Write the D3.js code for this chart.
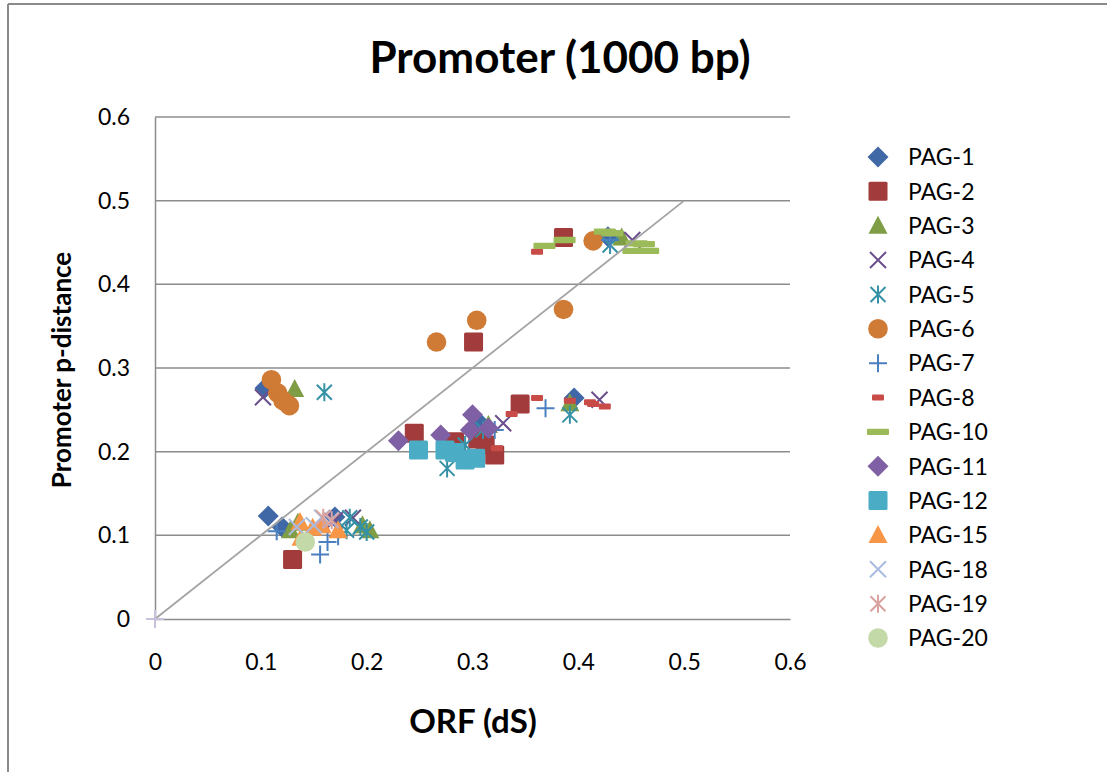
<!DOCTYPE html>
<html>
<head>
<meta charset="utf-8">
<script src="https://cdn.jsdelivr.net/npm/d3@7"></script>
<style>
  html, body { margin: 0; padding: 0; background: #fff; }
  svg { display: block; }
  text { font-family: Lato, "Open Sans", sans-serif; fill: #000; }
</style>
</head>
<body>
<div id="chart"></div>
<script>
// ---- data: ORF dS (x) vs promoter p-distance (y) for each gene family ----
const seriesNames = ["PAG-1","PAG-2","PAG-3","PAG-4","PAG-5","PAG-6","PAG-7","PAG-8",
                     "PAG-10","PAG-11","PAG-12","PAG-15","PAG-18","PAG-19","PAG-20"];
const pag1  = [[0.107,0.123],[0.120,0.110],[0.104,0.276],[0.307,0.234],[0.396,0.264],[0.428,0.457],[0.170,0.122]];
const pag2  = [[0.130,0.071],[0.245,0.222],[0.301,0.331],[0.386,0.456],[0.345,0.257],[0.283,0.212],[0.312,0.208],[0.321,0.196],[0.305,0.215]];
const pag3  = [[0.135,0.115],[0.128,0.106],[0.132,0.275],[0.203,0.106],[0.315,0.232],[0.441,0.456],[0.392,0.258],[0.196,0.112]];
const pag4  = [[0.102,0.265],[0.451,0.453],[0.420,0.262],[0.170,0.118],[0.329,0.234],[0.187,0.121]];
const pag5  = [[0.160,0.271],[0.392,0.244],[0.430,0.447],[0.184,0.121],[0.194,0.110],[0.200,0.104],[0.181,0.106],[0.276,0.180],[0.293,0.208],[0.310,0.226]];
const pag6  = [[0.110,0.286],[0.116,0.270],[0.121,0.261],[0.127,0.255],[0.266,0.331],[0.304,0.357],[0.386,0.370],[0.414,0.452]];
const pag7  = [[0.156,0.077],[0.163,0.092],[0.173,0.099],[0.115,0.105],[0.321,0.226],[0.369,0.252],[0.430,0.453],[0.290,0.195]];
const pag8  = [[0.361,0.264],[0.337,0.245],[0.392,0.261],[0.411,0.259],[0.425,0.254],[0.414,0.257],[0.361,0.439],[0.323,0.204]];
const pag10 = [[0.368,0.446],[0.387,0.453],[0.425,0.463],[0.432,0.461],[0.455,0.449],[0.462,0.448],[0.452,0.440],[0.466,0.440]];
const pag11 = [[0.230,0.213],[0.270,0.220],[0.300,0.244],[0.298,0.226],[0.315,0.228]];
const pag12 = [[0.249,0.202],[0.274,0.202],[0.283,0.199],[0.293,0.190],[0.303,0.192]];
const pag15 = [[0.137,0.116],[0.149,0.109],[0.173,0.106],[0.158,0.112],[0.138,0.097]];
const pag18 = [[0.134,0.110],[0.158,0.121],[0.166,0.118],[0.150,0.112]];
const pag19 = [[0.159,0.121],[0.167,0.118]];
const pag20 = [[0.142,0.092]];
// reference line y = x
const refLine = [[0,0],[0.5,0.5]];

const xTicks = [0,0.1,0.2,0.3,0.4,0.5,0.6];
const yTicks = [0,0.1,0.2,0.3,0.4,0.5,0.6];

// ---- marker styles per series ----
const styles = [
  {shape:"diamond",  color:"#4068A6"},
  {shape:"square",   color:"#A23B3B"},
  {shape:"triangle", color:"#7E9D45"},
  {shape:"times",    color:"#6A4F8C"},
  {shape:"asterisk", color:"#3591A6"},
  {shape:"circle",   color:"#CF7A35"},
  {shape:"plus",     color:"#4A7FC0"},
  {shape:"dashS",    color:"#C84B48"},
  {shape:"dashL",    color:"#9BBB59"},
  {shape:"diamond",  color:"#7F60A5"},
  {shape:"square",   color:"#4BACC6"},
  {shape:"triangle", color:"#F79646"},
  {shape:"times",    color:"#A9BBE0"},
  {shape:"asterisk", color:"#D9A29F"},
  {shape:"circle",   color:"#C4D9A8"}
];
const allSeries = [pag1,pag2,pag3,pag4,pag5,pag6,pag7,pag8,pag10,pag11,pag12,pag15,pag18,pag19,pag20];

const W = 1107, H = 772;
const svg = d3.select("#chart").append("svg").attr("width", W).attr("height", H);

// outer chart frame (top and left edges)
svg.append("line").attr("x1",8).attr("x2",W).attr("y1",4).attr("y2",4)
   .attr("stroke","#8a8a8a").attr("stroke-width",2);
svg.append("line").attr("x1",8).attr("x2",8).attr("y1",4).attr("y2",H)
   .attr("stroke","#8a8a8a").attr("stroke-width",2);

const x = d3.scaleLinear().domain([0,0.6]).range([155,790]);
const y = d3.scaleLinear().domain([0,0.6]).range([619,117]);

// horizontal gridlines
svg.append("g").selectAll("line").data(yTicks.filter(t => t > 0)).join("line")
  .attr("x1", x(0)).attr("x2", x(0.6))
  .attr("y1", d => y(d)).attr("y2", d => y(d))
  .attr("stroke","#8c8c8c").attr("stroke-width",1.5);

// axes
const xAxis = svg.append("g").attr("transform",`translate(0,${y(0)})`)
  .call(d3.axisBottom(x).tickValues(xTicks).tickFormat(d3.format("")).tickSize(0).tickPadding(34));
const yAxis = svg.append("g").attr("transform",`translate(${x(0)},0)`)
  .call(d3.axisLeft(y).tickValues(yTicks).tickFormat(d3.format("")).tickSize(0).tickPadding(25));
[xAxis, yAxis].forEach(a => {
  a.select(".domain").attr("stroke","#8c8c8c").attr("stroke-width",1.5);
  a.selectAll("text").style("font-family","Lato, sans-serif").style("font-size","23px").attr("fill","#000");
});
xAxis.selectAll("text").attr("dy","0.32em").attr("y", 44);

// marker drawing
function drawMarker(g, shape, color, cx, cy) {
  switch (shape) {
    case "diamond":
      g.append("path").attr("d",`M${cx},${cy-10.5}L${cx+10.5},${cy}L${cx},${cy+10.5}L${cx-10.5},${cy}Z`)
        .attr("fill",color); break;
    case "square":
      g.append("rect").attr("x",cx-9.5).attr("y",cy-9.5).attr("width",19).attr("height",19)
        .attr("rx",1.5).attr("fill",color); break;
    case "triangle":
      g.append("path").attr("d",`M${cx},${cy-10}L${cx+9.5},${cy+8}L${cx-9.5},${cy+8}Z`)
        .attr("fill",color); break;
    case "circle":
      g.append("circle").attr("cx",cx).attr("cy",cy).attr("r",9.8).attr("fill",color); break;
    case "times":
      g.append("path").attr("d",`M${cx-8},${cy-8}L${cx+8},${cy+8}M${cx-8},${cy+8}L${cx+8},${cy-8}`)
        .attr("stroke",color).attr("stroke-width",2).attr("fill","none"); break;
    case "asterisk":
      g.append("path").attr("d",`M${cx},${cy-9}L${cx},${cy+9}M${cx-7.5},${cy-7.5}L${cx+7.5},${cy+7.5}M${cx-7.5},${cy+7.5}L${cx+7.5},${cy-7.5}`)
        .attr("stroke",color).attr("stroke-width",2).attr("fill","none"); break;
    case "plus":
      g.append("path").attr("d",`M${cx},${cy-9}L${cx},${cy+9}M${cx-9},${cy}L${cx+9},${cy}`)
        .attr("stroke",color).attr("stroke-width",2).attr("fill","none"); break;
    case "dashS":
      g.append("rect").attr("x",cx-6).attr("y",cy-3).attr("width",12).attr("height",6)
        .attr("rx",1).attr("fill",color); break;
    case "dashL":
      g.append("rect").attr("x",cx-11).attr("y",cy-3.2).attr("width",22).attr("height",6.4)
        .attr("rx",1).attr("fill",color); break;
  }
}

// scatter series
const plot = svg.append("g");
allSeries.forEach((pts, i) => {
  const g = plot.append("g").attr("class","series");
  pts.forEach(p => drawMarker(g, styles[i].shape, styles[i].color, x(p[0]), y(p[1])));
});

// y = x reference line
svg.append("path").datum(refLine)
  .attr("d", d3.line().x(d => x(d[0])).y(d => y(d[1])))
  .attr("stroke","#a3a3a3").attr("stroke-width",1.8).attr("fill","none");
drawMarker(svg.append("g"), "plus", "#c9c0dc", x(refLine[0][0]), y(refLine[0][1]));

// titles
svg.append("text").attr("x",560).attr("y",73).attr("text-anchor","middle")
  .style("font-size","44px").style("font-weight","bold").text("Promoter (1000 bp)");
svg.append("text").attr("x",473).attr("y",733).attr("text-anchor","middle")
  .style("font-size","33px").style("font-weight","bold").text("ORF (dS)");
svg.append("text").attr("transform","translate(71,370) rotate(-90)").attr("text-anchor","middle")
  .style("font-size","26px").style("font-weight","bold").text("Promoter p-distance");

// legend
const legend = svg.append("g");
seriesNames.forEach((name, i) => {
  const ly = 157 + i * 34.36;
  drawMarker(legend, styles[i].shape, styles[i].color, 878, ly);
  legend.append("text").attr("x",908).attr("y",ly).attr("dy","0.36em")
    .style("font-size","23px").text(name);
});
</script>
</body>
</html>
